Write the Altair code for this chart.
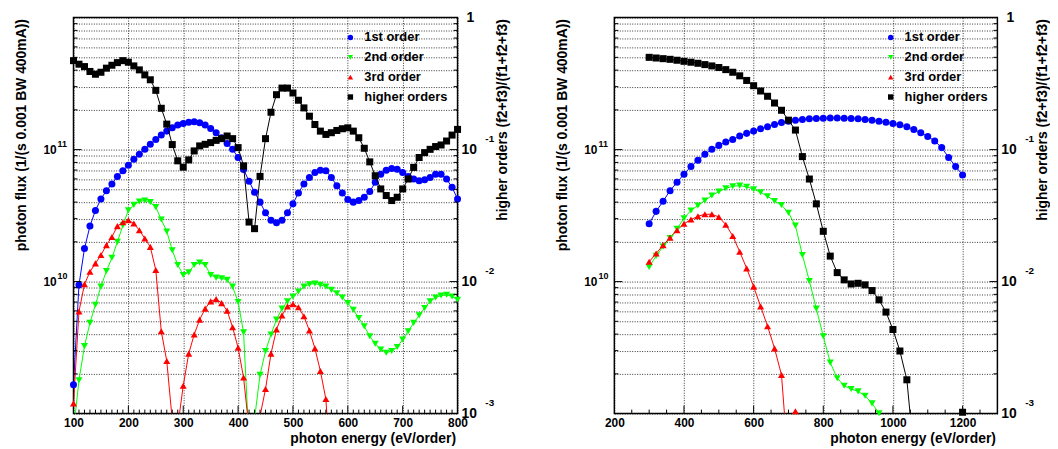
import altair as alt
import pandas as pd

FONT = "Liberation Sans"
SERIES = ["1st order", "2nd order", "3rd order", "higher orders"]
COLORS = ["#0000ff", "#00ff00", "#ff0000", "#000000"]
SHAPES = ["circle", "triangle-down", "triangle-up", "square"]

# ---------------- left panel: photon energy 100..800 eV/order, step 10 ----------------
left_energy = list(range(100, 801, 10))
# log10 of photon flux
left_first_log10 = [
    9.218, 9.975, 10.250, 10.421, 10.539, 10.626, 10.689, 10.739, 10.797, 10.840,
    10.882, 10.927, 10.965, 11.002, 11.040, 11.077, 11.110, 11.140, 11.165, 11.186,
    11.198, 11.208, 11.211, 11.203, 11.186, 11.160, 11.128, 11.090, 11.047, 11.002,
    10.940, 10.850, 10.760, 10.677, 10.602, 10.521, 10.464, 10.446, 10.464, 10.521,
    10.589, 10.672, 10.739, 10.789, 10.827, 10.844, 10.840, 10.789, 10.727, 10.672,
    10.622, 10.602, 10.614, 10.639, 10.682, 10.752, 10.814, 10.844, 10.857, 10.852,
    10.827, 10.797, 10.777, 10.764, 10.772, 10.789, 10.814, 10.814, 10.777, 10.714,
    10.626]
left_second_log10 = [
    8.870, 9.253, 9.511, 9.687, 9.825, 9.962, 10.080, 10.180, 10.301, 10.426,
    10.540, 10.581, 10.607, 10.614, 10.602, 10.564, 10.470, 10.380, 10.238, 10.126,
    10.050, 10.070, 10.126, 10.145, 10.126, 10.050, 10.030, 10.025, 10.013, 9.962,
    9.845, 9.615, 8.780, 8.960, 9.293, 9.474, 9.599, 9.712, 9.795, 9.850,
    9.887, 9.925, 9.962, 9.980, 9.985, 9.975, 9.962, 9.937, 9.912, 9.880,
    9.837, 9.787, 9.724, 9.662, 9.586, 9.529, 9.486, 9.461, 9.474, 9.504,
    9.561, 9.624, 9.687, 9.744, 9.800, 9.850, 9.880, 9.895, 9.900, 9.887,
    9.862]
left_third_log10 = [
    9.077, 9.774, 9.980, 10.075, 10.138, 10.201, 10.276, 10.338, 10.420, 10.450,
    10.465, 10.440, 10.389, 10.326, 10.263, 10.088, 9.624, 9.398, 8.950, 8.900,
    9.211, 9.454, 9.599, 9.712, 9.795, 9.850, 9.867, 9.837, 9.780, 9.654,
    9.499, 9.273, 8.880, 8.700, 8.980, 9.186, 9.454, 9.637, 9.744, 9.812,
    9.829, 9.805, 9.737, 9.629, 9.494, 9.323, 9.110, 8.500, None, None,
    None, None, None, None, None, None, None, None, None, None,
    None, None, None, None, None, None, None, None, None, None,
    None]
# log10 of (f2+f3)/(f1+f2+f3)
left_higher_log10 = [
    -0.326, -0.353, -0.371, -0.408, -0.429, -0.414, -0.383, -0.361, -0.341, -0.326,
    -0.338, -0.366, -0.396, -0.434, -0.471, -0.551, -0.687, -0.807, -0.962, -1.085,
    -1.133, -1.078, -1.010, -0.972, -0.960, -0.947, -0.930, -0.917, -0.897, -0.917,
    -0.985, -1.123, -1.549, -1.599, -1.203, -0.917, -0.717, -0.584, -0.534, -0.534,
    -0.571, -0.626, -0.684, -0.747, -0.810, -0.860, -0.885, -0.872, -0.855, -0.842,
    -0.835, -0.860, -0.910, -0.990, -1.093, -1.198, -1.298, -1.348, -1.386, -1.361,
    -1.298, -1.223, -1.135, -1.060, -1.023, -0.998, -0.977, -0.965, -0.935, -0.890,
    -0.847]

# ---------------- right panel: photon energy 300..1200 eV/order, step 20 ----------------
right_energy = list(range(300, 1201, 20))
right_first_log10 = [
    10.438, 10.532, 10.609, 10.689, 10.752, 10.814, 10.872, 10.920, 10.965, 11.002,
    11.032, 11.058, 11.077, 11.103, 11.123, 11.140, 11.158, 11.173, 11.190, 11.205,
    11.214, 11.222, 11.228, 11.233, 11.236, 11.238, 11.239, 11.239, 11.238, 11.236,
    11.233, 11.228, 11.222, 11.215, 11.207, 11.198, 11.188, 11.173, 11.153, 11.128,
    11.100, 11.065, 11.015, 10.940, 10.872, 10.807]
right_second_log10 = [
    10.110, 10.195, 10.265, 10.330, 10.400, 10.480, 10.539, 10.577, 10.614, 10.652,
    10.682, 10.707, 10.722, 10.727, 10.718, 10.700, 10.677, 10.647, 10.610, 10.580,
    10.521, 10.424, 10.201, 10.005, 9.795, 9.586, 9.386, 9.268, 9.211, 9.186,
    9.168, 9.135, 9.077, 9.003, None, None, None, None, None, None,
    None, None, None, None, None, None]
right_third_log10 = [
    10.150, 10.213, 10.276, 10.333, 10.389, 10.438, 10.470, 10.495, 10.510, 10.510,
    10.490, 10.431, 10.346, 10.226, 10.100, 9.962, 9.812, 9.662, 9.494, 9.293,
    8.600, None, None, None, None, None, None, None, None, None,
    None, None, None, None, None, None, None, None, None, None,
    None, None, None, None, None, None]
right_third_lone_energy = [720]
right_third_lone_log10 = [9.017]
right_higher_log10 = [
    -0.301, -0.306, -0.311, -0.316, -0.323, -0.331, -0.338, -0.346, -0.356, -0.366,
    -0.378, -0.394, -0.414, -0.441, -0.476, -0.516, -0.556, -0.596, -0.647, -0.702,
    -0.777, -0.852, -1.053, -1.223, -1.411, -1.619, -1.807, -1.932, -1.987, -2.018,
    -2.013, -2.025, -2.068, -2.138, -2.231, -2.363, -2.526, -2.744, -3.300, None,
    None, None, None, None, None, -2.990]

# axis label / tick values
left_x_labels = list(range(100, 801, 100))
left_x_minor = [e for e in range(110, 800, 10) if e % 100]
right_x_labels = list(range(200, 1201, 200))
right_x_minor = [e for e in range(250, 1300, 50) if e % 200]
flux_major = [1e10, 1e11]
flux_minor = [k * 10.0 ** d for d in (9, 10, 11) for k in range(2, 10)]
flux_grid = [k * 10.0 ** d for d in (9, 10, 11) for k in range(1, 10)] + [1e12]
ratio_major = [1e-2, 1e-1]
ratio_minor = [k * 10.0 ** d for d in (-3, -2, -1) for k in range(2, 10)]
flux_label_vals = [1e10, 1e11]
flux_label_exp = ["10", "11"]
ratio_label_vals = [1e-1, 1e-2, 1e-3]
ratio_label_exp = ["-1", "-2", "-3"]


def long_df(energy, logs, name, tag=""):
    rows, seg = [], 0
    for e, v in zip(energy, logs):
        if v is None:
            seg += 1
            continue
        rows.append({"E": e, "value": 10.0 ** v, "series": name, "ls": name,
                     "grp": f"{name}{tag}-{seg}"})
    return pd.DataFrame(rows)


def panel(flux, ratio, xdom, xlab, xmaj, xmin_, W, H, leg_sym_x, leg_txt_x):
    xs = alt.Scale(domain=xdom, nice=False, zero=False)
    xaxis = alt.Axis(values=xlab, grid=True, ticks=False, tickSize=0, domain=False,
                     labelFlush=False, labelFontSize=12, labelPadding=4, format="d",
                     title="photon energy (eV/order)", titleFontSize=14,
                     titleX=W - 2, titleY=25, titleAlign="right", titleBaseline="middle")
    X = alt.X("E:Q", scale=xs, axis=xaxis)
    ysl = alt.Scale(type="log", domain=[1e9, 1e12], nice=False)
    ysr = alt.Scale(type="log", domain=[1e-3, 1.0], nice=False)
    yaxis_l = alt.Axis(values=flux_grid, grid=True, labels=False, ticks=False, domain=False,
                       title="photon flux (1/(s 0.001 BW 400mA))", titleFontSize=14,
                       titleAngle=270, titleX=-52.5, titleY=1, titleAlign="right",
                       titleBaseline="middle")
    yaxis_r = alt.Axis(orient="right", values=[1e-3, 1e-2, 1e-1, 1], grid=False, labels=False,
                       ticks=False, domain=False,
                       title="higher orders (f2+f3)/(f1+f2+f3)", titleFontSize=14,
                       titleAngle=270, titleX=45, titleY=1, titleAlign="right",
                       titleBaseline="middle")
    color = alt.Color("series:N", scale=alt.Scale(domain=SERIES, range=COLORS), legend=None)
    shape = alt.Shape("series:N", scale=alt.Scale(domain=SERIES, range=SHAPES), legend=None)
    stroke = alt.Stroke("ls:N", scale=alt.Scale(domain=SERIES, range=COLORS), legend=None)

    lines_f = alt.Chart(flux).mark_line(clip=True, strokeWidth=1).encode(
        x=X, y=alt.Y("value:Q", scale=ysl, axis=yaxis_l), stroke=stroke, detail="grp:N")
    pts_f = alt.Chart(flux[flux["value"] >= 0.999e9]).mark_point(
        filled=True, size=50, opacity=1, strokeWidth=0).encode(
        x=X, y=alt.Y("value:Q", scale=ysl, axis=None), color=color, shape=shape)
    lines_r = alt.Chart(ratio).mark_line(clip=True, strokeWidth=1).encode(
        x=X, y=alt.Y("value:Q", scale=ysr, axis=yaxis_r), stroke=stroke, detail="grp:N")
    pts_r = alt.Chart(ratio[ratio["value"] >= 0.999e-3]).mark_point(
        filled=True, size=50, opacity=1, strokeWidth=0).encode(
        x=X, y=alt.Y("value:Q", scale=ysr, axis=None), color=color, shape=shape)

    def xticks(vals, length):
        return alt.Chart(pd.DataFrame({"E": vals})).mark_rule(color="black", strokeWidth=1).encode(
            x=X, y=alt.value(H), y2=alt.value(H - length))

    def yticks(vals, scale, x0, x1):
        return alt.Chart(pd.DataFrame({"v": vals})).mark_rule(color="black", strokeWidth=1).encode(
            y=alt.Y("v:Q", scale=scale, axis=None), x=alt.value(x0), x2=alt.value(x1))

    ticks = [xticks(xmaj, 8), xticks(xmin_, 4),
             yticks(flux_major, ysl, 0, 8), yticks(flux_minor, ysl, 0, 4),
             yticks(ratio_major, ysr, W - 8, W), yticks(ratio_minor, ysr, W - 4, W)]

    fl = pd.DataFrame({"v": flux_label_vals, "b": ["10"] * 2, "e": flux_label_exp})
    rl = pd.DataFrame({"v": ratio_label_vals, "b": ["10"] * 3, "e": ratio_label_exp})
    one = pd.DataFrame({"v": [1.0], "b": ["1"]})
    txt = dict(font=FONT, fontWeight="bold", color="black")
    labels = [
        alt.Chart(fl).mark_text(align="right", baseline="middle", fontSize=12, **txt).encode(
            y=alt.Y("v:Q", scale=ysl, axis=None), x=alt.value(-17), text="b:N"),
        alt.Chart(fl).mark_text(align="left", baseline="middle", fontSize=9, dy=-6, **txt).encode(
            y=alt.Y("v:Q", scale=ysl, axis=None), x=alt.value(-16), text="e:N"),
        alt.Chart(rl).mark_text(align="left", baseline="middle", fontSize=14, **txt).encode(
            y=alt.Y("v:Q", scale=ysr, axis=None), x=alt.value(W + 4), text="b:N"),
        alt.Chart(rl).mark_text(align="left", baseline="middle", fontSize=10, dy=-11, **txt).encode(
            y=alt.Y("v:Q", scale=ysr, axis=None), x=alt.value(W + 28), text="e:N"),
        alt.Chart(one).mark_text(align="center", baseline="middle", fontSize=14, **txt).encode(
            y=alt.Y("v:Q", scale=ysr, axis=None), x=alt.value(W + 13), text="b:N"),
    ]

    # legend drawn as marks (one row per series)
    legdf = pd.DataFrame({"series": SERIES})
    leg_y = alt.Y("series:N", scale=alt.Scale(type="point", domain=SERIES, range=[20, 80],
                                             padding=0), axis=None)
    legend = [
        alt.Chart(legdf).mark_point(filled=True, size=30, opacity=1, strokeWidth=0).encode(
            x=alt.value(leg_sym_x), y=leg_y, color=color, shape=shape),
        alt.Chart(legdf).mark_text(align="left", baseline="middle", fontSize=13, **txt).encode(
            x=alt.value(leg_txt_x), y=leg_y, text="series:N"),
    ]
    return alt.layer(lines_f, pts_f, lines_r, pts_r, *ticks, *labels, *legend).resolve_scale(
        y="independent").properties(width=W, height=H)


left_flux = pd.concat([
    long_df(left_energy, left_first_log10, SERIES[0]),
    long_df(left_energy, left_second_log10, SERIES[1]),
    long_df(left_energy, left_third_log10, SERIES[2]),
], ignore_index=True)
left_ratio = long_df(left_energy, left_higher_log10, SERIES[3])

right_flux = pd.concat([
    long_df(right_energy, right_first_log10, SERIES[0]),
    long_df(right_energy, right_second_log10, SERIES[1]),
    long_df(right_energy, right_third_log10, SERIES[2]),
    long_df(right_third_lone_energy, right_third_lone_log10, SERIES[2], tag="lone"),
], ignore_index=True)
right_ratio = long_df(right_energy, right_higher_log10, SERIES[3])

left = panel(left_flux, left_ratio, [100, 800], left_x_labels,
             [e for e in left_x_labels[1:-1]], left_x_minor, 387, 399, 279, 293)
right = panel(right_flux, right_ratio, [200, 1300], right_x_labels,
              right_x_labels[1:], right_x_minor, 386, 399, 278.5, 292.5)

chart = alt.hconcat(left, right, spacing=44).resolve_scale(
    x="independent", y="independent", color="independent", shape="independent",
    stroke="independent").properties(
    padding={"left": 5, "top": 0, "right": 0, "bottom": 0}, background="white"
).configure_view(stroke="black", strokeWidth=1.5).configure_axis(
    labelFont=FONT, titleFont=FONT, labelFontWeight="bold", titleFontWeight="bold",
    labelColor="black", titleColor="black", gridColor="black", gridDash=[1, 1.5],
    gridOpacity=0.8, gridWidth=1)

chart.save("out.html", embed_options={"renderer": "svg", "actions": False})
